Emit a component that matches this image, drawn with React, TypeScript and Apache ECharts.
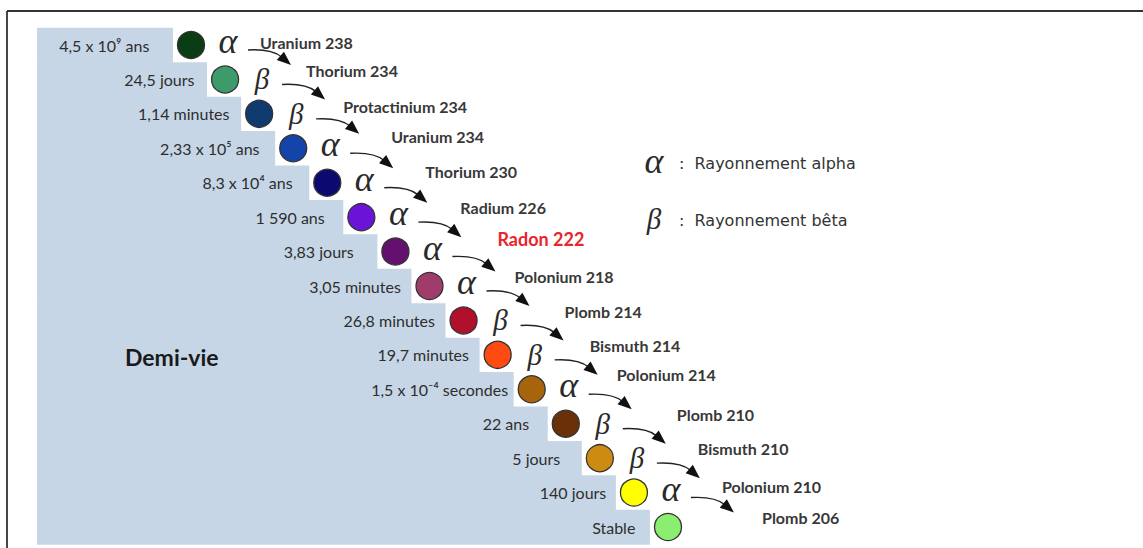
import React, { useEffect, useRef } from "react";
import * as echarts from "echarts";

// ---- data ----
const nuclides = [
  "Uranium 238", "Thorium 234", "Protactinium 234", "Uranium 234", "Thorium 230",
  "Radium 226", "Radon 222", "Polonium 218", "Plomb 214", "Bismuth 214",
  "Polonium 214", "Plomb 210", "Bismuth 210", "Polonium 210", "Plomb 206",
];
const halfLives = [
  "4,5 x 10⁹ ans", "24,5 jours", "1,14 minutes", "2,33 x 10⁵ ans", "8,3 x 10⁴ ans",
  "1 590 ans", "3,83 jours", "3,05 minutes", "26,8 minutes", "19,7 minutes",
  "1,5 x 10⁻⁴ secondes", "22 ans", "5 jours", "140 jours", "Stable",
];
const decays = ["α", "β", "β", "α", "α", "α", "α", "α", "β", "β", "α", "β", "β", "α"];
const highlighted = "Radon 222";
const legendItems = [
  { symbol: "α", text: "Rayonnement alpha" },
  { symbol: "β", text: "Rayonnement bêta" },
];

// ---- styles / layout ----
const circleColors = [
  "#0b3d14", "#3c9a6b", "#0f3a70", "#1444a8", "#0a0a70",
  "#6a14d8", "#64106e", "#a03c6c", "#b0102c", "#ff4a12",
  "#a8640c", "#6a3008", "#cc8c12", "#ffff00", "#8cee70",
];
const NAME_DX = [69, 81, 84, 98, 98, 99, 102, 85, 101, 92, 85, 111, 98, 88, 94];
const NAME_DY = [-3, -9, -7, -12, -11, -10, -13, -10, -9, -9, -15, -9, -10, -6, -10];
const LIFE_GAP = [41, 30, 29, 33, 34, 36, 41, 28, 28, 28, 23, 36, 39, 27, 32];
const SHADE = "#c6d6e6";
const SHADE_LEFT = -4.52; // in step units
const SHADE_RIGHT = 0.53;

const idx = nuclides.map((_, i) => i);

const option: any = {
  animation: false,
  backgroundColor: "#ffffff",
  grid: { left: 191, top: 45, width: 477, height: 482, containLabel: false },
  xAxis: { type: "value", min: 0, max: 14, show: false },
  yAxis: { type: "value", min: 0, max: 14, inverse: true, show: false },
  graphic: [
    { type: "line", shape: { x1: 7, y1: 11, x2: 1143, y2: 11 }, style: { stroke: "#333333", lineWidth: 1.8 } },
    { type: "line", shape: { x1: 7, y1: 11, x2: 7, y2: 548 }, style: { stroke: "#333333", lineWidth: 1.8 } },
    {
      type: "text", left: 125, top: 345, z: 10,
      style: { text: "Demi-vie", fill: "#1a1a1a", fontSize: 23, fontWeight: "bold", fontFamily: "Lato" },
    },
    ...legendItems.flatMap((it, k) => [
      {
        type: "text", x: 654, y: k === 0 ? 161 : 219, z: 10,
        style: {
          text: it.symbol, fill: "#2a2a2a", fontSize: it.symbol === "α" ? 36 : 29,
          fontStyle: "italic", fontFamily: "Liberation Serif", align: "center", verticalAlign: "middle",
        },
      },
      {
        type: "text", x: 679, y: k === 0 ? 163 : 220, z: 10,
        style: { text: ":  " + it.text, fill: "#333333", fontSize: 16, fontFamily: "DejaVu Sans", verticalAlign: "middle" },
      },
    ]),
  ],
  series: [
    {
      type: "custom",
      name: "shade",
      z: 1,
      data: idx.map((i) => [i, i]),
      renderItem: (params: any, api: any) => {
        const i = api.value(0);
        const tl = api.coord([SHADE_LEFT, i - 0.5]);
        const br = api.coord([i - SHADE_RIGHT, i + 0.5]);
        return {
          type: "rect",
          shape: { x: tl[0], y: tl[1], width: br[0] - tl[0], height: br[1] - tl[1] + 0.6 },
          style: { fill: SHADE },
        };
      },
    },
    {
      type: "scatter",
      name: "nuclides",
      z: 5,
      symbol: "circle",
      symbolSize: 27,
      data: idx.map((i) => ({
        value: [i, i],
        itemStyle: { color: circleColors[i] },
        label: { distance: LIFE_GAP[i] - 13.5 },
      })),
      itemStyle: { borderColor: "#333333", borderWidth: 1.3, opacity: 1 },
      emphasis: { disabled: true },
      label: {
        show: true,
        position: "left",
        formatter: (p: any) => halfLives[p.dataIndex],
        color: "#2e2e2e",
        fontSize: 16,
        fontFamily: "Lato",
      },
    },
    {
      type: "custom",
      name: "chain",
      z: 6,
      data: idx.map((i) => [i, i]),
      renderItem: (params: any, api: any) => {
        const i = api.value(0);
        const c = api.coord([i, i]);
        const children: any[] = [];
        const name = nuclides[i];
        const isHi = name === highlighted;
        children.push({
          type: "text",
          x: c[0] + NAME_DX[i],
          y: c[1] + NAME_DY[i],
          style: {
            text: name,
            fill: isHi ? "#e8262c" : "#383838",
            fontSize: isHi ? 18 : 16,
            fontWeight: "bold",
            fontFamily: "Lato",
            align: "left",
            verticalAlign: "middle",
          },
        });
        const d = decays[i];
        if (d) {
          children.push({
            type: "text",
            x: c[0] + 37,
            y: c[1] + (d === "α" ? -4 : 0),
            style: {
              text: d,
              fill: "#2a2a2a",
              fontSize: d === "α" ? 36 : 29,
              fontStyle: "italic",
              fontFamily: "Liberation Serif",
              align: "center",
              verticalAlign: "middle",
            },
          });
          const sx = c[0] + 57, sy = c[1] + 5;
          const tx = c[0] + 100, ty = c[1] + 20;
          const c1x = sx + 18, c1y = sy - 1;
          const c2x = tx - 14, c2y = ty - 12;
          let dx = tx - c2x, dy = ty - c2y;
          const len = Math.sqrt(dx * dx + dy * dy);
          dx /= len; dy /= len;
          const hl = 14, hw = 5.5;
          const bx = tx - dx * hl, by = ty - dy * hl;
          children.push({
            type: "bezierCurve",
            shape: { x1: sx, y1: sy, cpx1: c1x, cpy1: c1y, cpx2: c2x, cpy2: c2y, x2: bx + dx * 2, y2: by + dy * 2 },
            style: { stroke: "#222222", lineWidth: 1.4, fill: null },
          });
          children.push({
            type: "polygon",
            shape: { points: [[tx, ty], [bx - dy * hw, by + dx * hw], [bx + dy * hw, by - dx * hw]] },
            style: { fill: "#111111" },
          });
        }
        return { type: "group", children };
      },
    },
  ],
};

export default function App() {
  const ref = useRef<HTMLDivElement>(null);
  useEffect(() => {
    const chart = echarts.init(ref.current!, undefined, { renderer: "svg" });
    chart.setOption(option);
    return () => chart.dispose();
  }, []);
  return (
    <div
      ref={ref}
      style={{ position: "absolute", left: 0, top: 0, width: 1143, height: 548, background: "#ffffff" }}
    />
  );
}
